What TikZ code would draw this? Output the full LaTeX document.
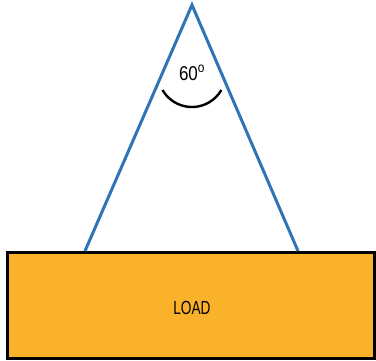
\documentclass[tikz,border=0pt]{standalone}
\usepackage{fontspec}
\setmainfont{Liberation Sans}
\usetikzlibrary{positioning}
\definecolor{loadorange}{RGB}{249,178,42}
\definecolor{cableblue}{RGB}{46,117,182}

\begin{document}
\begin{tikzpicture}[x=1pt,y=-1pt]
\useasboundingbox (0,0) rectangle (376,360);
\coordinate (apex) at (192,5);
\coordinate (footL) at (85,251);
\coordinate (footR) at (298,251);
\coordinate (arcstart) at (162.5,90);
\draw [line width=3pt,fill=loadorange] (7,252) rectangle (374.5,358);
\node (load) at (192,308) {\fontsize{19}{19}\selectfont\scalebox{0.72}[1]{LOAD}};
\draw [cableblue,line width=3pt] (footL) -- (apex) -- (footR);
\draw [line width=2.4pt] (arcstart) arc [start angle=150,end angle=30,radius=34];
\node (angle) at (192,73) {\fontsize{20}{20}\selectfont\scalebox{0.85}[1]{60\textsuperscript{o}}};
\end{tikzpicture}
\end{document}
